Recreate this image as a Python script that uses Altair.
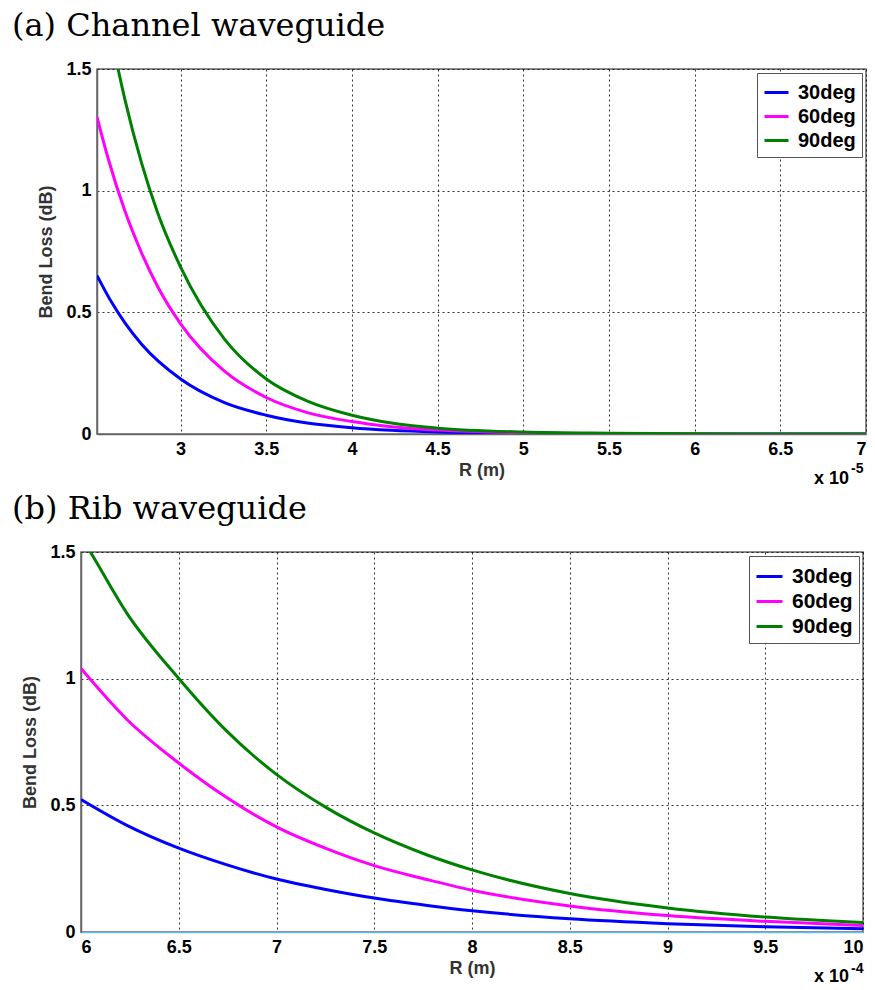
import altair as alt
import pandas as pd

SERIES = ["30deg", "60deg", "90deg"]
COLORS = ["#0000FF", "#FF00FF", "#008000"]

# ---- Panel (a): Channel waveguide, R in units of 1e-5 m ----
a_R_30 = [2.512, 2.6, 2.674, 2.771, 3.0, 3.256, 3.5, 4.0, 4.23, 4.5, 5.0, 5.5, 6.0, 6.5, 7.0]
a_L_30 = [0.651, 0.538, 0.458, 0.37, 0.226, 0.129, 0.077, 0.026, 0.015, 0.008, 0.003, 0.001, 0.0, 0.0, 0.0]
a_R_60 = [2.512, 2.578, 2.674, 2.771, 2.868, 3.0, 3.256, 3.5, 3.74, 4.0, 4.23, 4.5, 5.0, 5.5, 6.0, 7.0]
a_L_60 = [1.303, 1.13, 0.918, 0.746, 0.603, 0.453, 0.258, 0.15, 0.088, 0.051, 0.03, 0.016, 0.005, 0.001, 0.0, 0.0]
a_R_90 = [2.512, 2.632, 2.674, 2.771, 2.868, 3.0, 3.256, 3.5, 3.74, 4.0, 4.23, 4.5, 5.0, 5.5, 6.0, 6.5, 7.0]
a_L_90 = [1.95, 1.51, 1.377, 1.116, 0.905, 0.686, 0.39, 0.226, 0.135, 0.077, 0.045, 0.024, 0.008, 0.003, 0.001, 0.0, 0.0]

# ---- Panel (b): Rib waveguide, R in units of 1e-4 m ----
b_R = [6.0, 6.235, 6.5, 6.747, 7.0, 7.259, 7.5, 7.771, 8.0, 8.5, 9.0, 9.5, 10.0]
b_L_30 = [0.523, 0.421, 0.331, 0.265, 0.209, 0.167, 0.134, 0.105, 0.084, 0.052, 0.033, 0.021, 0.013]
b_L_60 = [1.040, 0.839, 0.667, 0.530, 0.415, 0.328, 0.262, 0.207, 0.165, 0.103, 0.065, 0.042, 0.026]
b_R_90 = [6.0, 6.048, 6.235, 6.5, 6.747, 7.0, 7.259, 7.5, 7.771, 8.0, 8.5, 9.0, 9.5, 10.0]
b_L_90 = [1.56, 1.5, 1.258, 1.001, 0.792, 0.622, 0.489, 0.391, 0.304, 0.245, 0.152, 0.095, 0.059, 0.037]

a_xticks = [3, 3.5, 4, 4.5, 5, 5.5, 6, 6.5, 7]
b_xticks = [6, 6.5, 7, 7.5, 8, 8.5, 9, 9.5, 10]
yticks = [0, 0.5, 1, 1.5]


def long(pairs):
    rows = []
    for name, rs, ls in pairs:
        for r, l in zip(rs, ls):
            rows.append({"R": r, "L": l, "series": name})
    return pd.DataFrame(rows)


df_a = long([("30deg", a_R_30, a_L_30), ("60deg", a_R_60, a_L_60), ("90deg", a_R_90, a_L_90)])
df_b = long([("30deg", b_R, b_L_30), ("60deg", b_R, b_L_60), ("90deg", b_R_90, b_L_90)])

FONT = "Liberation Sans"


def panel(df, title, left_gap, xdom, xticks, w, h, exp, ex_right, ex_dy, sup_dy,
          domain_color, leg_font, leg_sym):
    lines = alt.Chart(df).mark_line(strokeWidth=3, clip=True, interpolate="monotone").encode(
        x=alt.X("R:Q",
                scale=alt.Scale(domain=xdom, nice=False, zero=False),
                axis=alt.Axis(values=xticks, format="~g", title="R (m)",
                              domainColor=domain_color)),
        y=alt.Y("L:Q",
                scale=alt.Scale(domain=[0, 1.5], nice=False),
                axis=alt.Axis(values=yticks, format="~g", title="Bend Loss (dB)")),
        color=alt.Color("series:N",
                        scale=alt.Scale(domain=SERIES, range=COLORS),
                        legend=alt.Legend(title=None, orient="top-right", offset=4,
                                          symbolType="stroke", symbolStrokeWidth=3,
                                          symbolSize=leg_sym, labelFontSize=leg_font,
                                          labelFont=FONT, labelFontWeight="bold",
                                          labelColor="black", labelOffset=8,
                                          strokeColor="#555555", fillColor="white",
                                          padding=6, rowPadding=0)),
        order=alt.Order("R:Q"),
    )
    t1 = alt.Chart(pd.DataFrame({"t": ["x 10"]})).mark_text(
        align="right", baseline="alphabetic", font=FONT, fontWeight="bold", fontSize=18
    ).encode(text="t:N", x=alt.value(w - ex_right), y=alt.value(h + ex_dy))
    t2 = alt.Chart(pd.DataFrame({"t": [exp]})).mark_text(
        align="left", baseline="alphabetic", font=FONT, fontWeight="bold", fontSize=14
    ).encode(text="t:N", x=alt.value(w - ex_right + 2), y=alt.value(h + sup_dy))
    plot = alt.layer(lines, t1, t2).properties(
        width=w, height=h
    ).resolve_scale(color="independent")
    spacer = alt.Chart(pd.DataFrame({"v": [0]})).mark_text(text="").encode(
        x=alt.value(0), y=alt.value(0)
    ).properties(width=left_gap, height=10, view=alt.ViewBackground(strokeOpacity=0))
    return alt.hconcat(
        spacer, plot, spacing=0,
        title=alt.TitleParams(text=title, anchor="start", font="DejaVu Serif",
                              fontSize=32, fontWeight="normal", color="black",
                              offset=-9, baseline="alphabetic"),
    ).resolve_scale(color="independent").resolve_legend(color="independent")


pa = panel(df_a, "(a) Channel waveguide", 25, [2.512, 7.0], a_xticks, 769, 365, "-5", 17, 50, 39,
           "#666666", 20, 576)
pb = panel(df_b, "(b) Rib waveguide", 9, [6.0, 10.0], b_xticks, 782, 380, "-4", 14, 50, 41,
           "#66BBEE", 21, 676)

chart = alt.vconcat(pa, pb, spacing=4).resolve_scale(
    color="independent"
).resolve_legend(color="independent").properties(
    padding={"left": 12, "top": 10, "right": 2, "bottom": 2}
).configure_axis(
    labelFont=FONT, labelFontWeight="bold", labelFontSize=18, labelColor="black",
    titleFont=FONT, titleFontWeight="bold", titleFontSize=18, titleColor="#333333",
    grid=True, gridColor="black", gridDash=[2, 3], gridOpacity=0.8, gridWidth=1,
    domainColor="#666666", domainWidth=1.5, tickSize=0, labelPadding=6,
).configure_axisX(titlePadding=3).configure_axisY(titlePadding=10).configure_view(
    stroke="#666666", strokeWidth=1.5
)

chart.save("out.html", embed_options={"renderer": "svg", "actions": False})
